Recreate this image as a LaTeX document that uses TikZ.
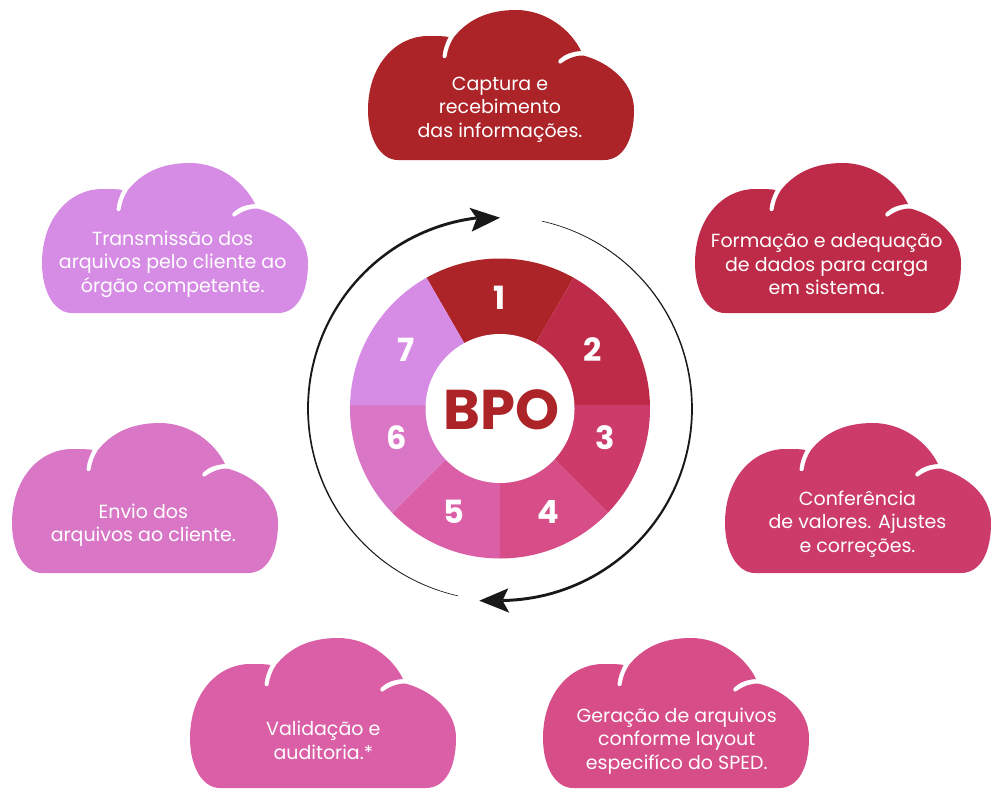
\documentclass[tikz,border=0pt]{standalone}
\usepackage{fontspec}
\setmainfont{Poppins}
\definecolor{c1}{HTML}{AC2328}
\definecolor{c2}{HTML}{BE2B48}
\definecolor{c3}{HTML}{CC3B69}
\definecolor{c4}{HTML}{D64D88}
\definecolor{c5}{HTML}{DB5FA7}
\definecolor{c6}{HTML}{D977C6}
\definecolor{c7}{HTML}{D68CE4}
\tikzset{
  pics/cloud/.style={code={
    \fill[#1] (30,150) .. controls (12,150) and (0,128) .. (0,100)
      .. controls (0,55) and (28,26) .. (60,26)
      .. controls (70,26) and (76,26) .. (80.5,27)
      .. controls (77,34) and (75,40) .. (74.5,46)
      .. controls (74.3,49) and (78.3,49) .. (78.7,46.5)
      .. controls (79.5,40) and (82,33) .. (86,27)
      .. controls (99,11) and (118,0) .. (148,0)
      .. controls (178,0) and (203,20) .. (213,41)
      .. controls (204,41.5) and (196,44.5) .. (191,49.5)
      .. controls (189,51.5) and (191,55) .. (193.5,53.2)
      .. controls (199,49) and (207,45.5) .. (215,45.5)
      .. controls (234,50) and (266,68) .. (266,100)
      .. controls (266,130) and (255,150) .. (236,150) -- cycle;
  }},
  cloudtext/.style={text=white, font=\fontsize{19}{23.5}\selectfont, align=center, inner sep=0pt},
  num/.style={text=white, font=\fontsize{32}{32}\selectfont\bfseries, inner sep=0pt},
  bpo/.style={text=c1, font=\fontsize{56}{56}\selectfont\bfseries, inner sep=0pt},
  arrowbody/.style={fill=black!90},
}
\begin{document}
\begin{tikzpicture}[x=1pt,y=-1pt]
\useasboundingbox (0,0) rectangle (1000,800);
\fill[white] (0,0) rectangle (1000,800);
% clouds
\pic at (368,10) {cloud=c1};
\pic at (695,163) {cloud=c2};
\pic at (725,423) {cloud=c3};
\pic at (543,638) {cloud=c4};
\pic at (190,638) {cloud=c5};
\pic at (12,423) {cloud=c6};
\pic at (42,163) {cloud=c7};
% cloud texts
\node[cloudtext] (t1) at (500,109.5) {Captura e\\recebimento\\das informações.};
\node[cloudtext] (t2) at (826.7,264.5) {Formação e adequação\\de dados para carga\\em sistema.};
\node[cloudtext] (t3) at (857.5,524) {Conferência\\de valores. Ajustes\\e correções.};
\node[cloudtext] (t4) at (676.7,741) {Geração de arquivos\\conforme layout\\especifíco do SPED.};
\node[cloudtext] (t5) at (323.3,740.5) {Validação e\\auditoria.*};
\node[cloudtext] (t6) at (143.3,525) {Envio dos\\arquivos ao cliente.};
\node[cloudtext] (t7) at (172.7,264) {Transmissão dos\\arquivos pelo cliente ao\\órgão competente.};
% wheel
\coordinate (wc) at (500,408.5);
\begin{scope}
\clip (wc) circle (150);
\fill[c1] (500,405) -- ++(-120:170) arc (-120:-60:170) -- cycle;
\fill[c2] (500,405) -- ++(-60:170) arc (-60:0:170) -- cycle;
\fill[c3] (500,405) -- ++(0:170) arc (0:45:170) -- cycle;
\fill[c4] (500,405) -- ++(45:170) arc (45:90:170) -- cycle;
\fill[c5] (500,405) -- ++(90:170) arc (90:135:170) -- cycle;
\fill[c6] (500,405) -- ++(135:170) arc (135:180:170) -- cycle;
\fill[c7] (500,405) -- ++(180:170) arc (180:240:170) -- cycle;
\end{scope}
\fill[white] (wc) circle (74.5);
\node[bpo] (bpo) at (501.7,410) {BPO};
\node[num] (n1) at (500,298) {1};
\node[num] (n2) at (593,350) {2};
\node[num] (n3) at (605,438) {3};
\node[num] (n4) at (548,512) {4};
\node[num] (n5) at (454,512) {5};
\node[num] (n6) at (397,438) {6};
\node[num] (n7) at (406,350) {7};
% cycle arrows
\fill[arrowbody] plot[domain=102.6:263,samples=90,variable=\t]
  ({500+(192+(0.3+1.2*(\t-102.6)/160.4))*cos(\t)},{408.5+(192+(0.3+1.2*(\t-102.6)/160.4))*sin(\t)})
  -- plot[domain=263:102.6,samples=90,variable=\t]
  ({500+(192-(0.3+1.2*(\t-102.6)/160.4))*cos(\t)},{408.5+(192-(0.3+1.2*(\t-102.6)/160.4))*sin(\t)}) -- cycle;
\fill[arrowbody] (500,217.7) -- (469.3,207.7) -- (476.7,218.3) -- (471.7,231.7) -- cycle;
\fill[arrowbody] plot[domain=-77.4:89.1,samples=90,variable=\t]
  ({500+(192+(0.3+1.2*(\t+77.4)/166.5))*cos(\t)},{408.5+(192+(0.3+1.2*(\t+77.4)/166.5))*sin(\t)})
  -- plot[domain=89.1:-77.4,samples=90,variable=\t]
  ({500+(192-(0.3+1.2*(\t+77.4)/166.5))*cos(\t)},{408.5+(192-(0.3+1.2*(\t+77.4)/166.5))*sin(\t)}) -- cycle;
\fill[arrowbody] (479.3,600.7) -- (508.3,588.3) -- (502.5,600.5) -- (509.3,612.7) -- cycle;
\end{tikzpicture}
\end{document}
